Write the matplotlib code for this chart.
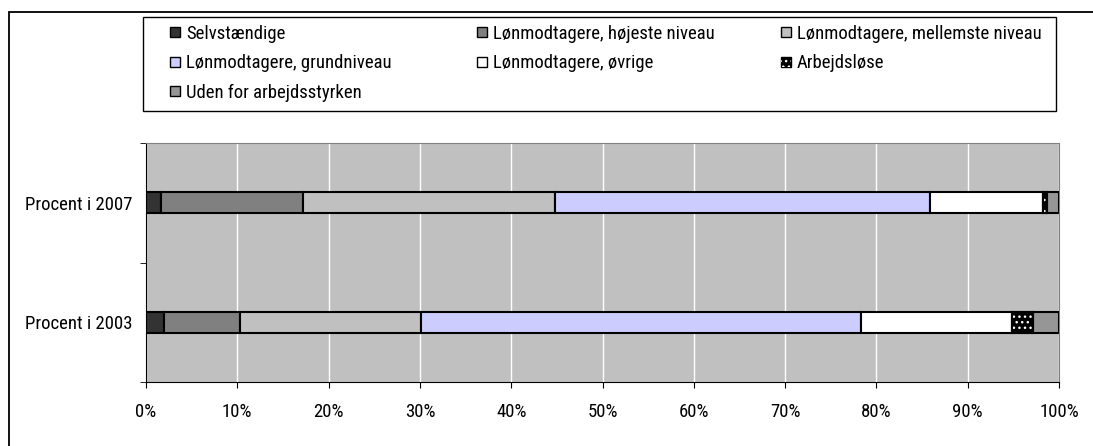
import matplotlib
matplotlib.use("Agg")
import matplotlib.pyplot as plt
from matplotlib.patches import Rectangle
import numpy as np
from matplotlib import font_manager

fams = {f.name for f in font_manager.fontManager.ttflist}
FONT = next((f for f in ["Roboto Condensed", "Archivo Narrow", "PT Sans Narrow", "Liberation Sans"] if f in fams),
            "DejaVu Sans")
plt.rcParams['font.family'] = [FONT, 'DejaVu Sans']
FS = 13.5

categories = ["Procent i 2003", "Procent i 2007"]
series_names = ["Selvstændige", "Lønmodtagere, højeste niveau", "Lønmodtagere, mellemste niveau",
                "Lønmodtagere, grundniveau", "Lønmodtagere, øvrige", "Arbejdsløse",
                "Uden for arbejdsstyrken"]
# shares in percent, [2003, 2007]
selvst = [2.0, 1.6]
hoejeste = [8.3, 15.6]
mellemste = [19.8, 27.6]
grund = [48.2, 41.1]
oevrige = [16.5, 12.3]
arbejdsloese = [2.3, 0.5]
uden = [2.9, 1.3]
values = [selvst, hoejeste, mellemste, grund, oevrige, arbejdsloese, uden]
colors = ["#333333", "#808080", "#c0c0c0", "#ccccff", "#ffffff", "#000000", "#969696"]
xticks = np.arange(0, 101, 10)

fig = plt.figure(figsize=(10.93, 4.46), dpi=100)
W, H = 1093, 446

# outer frame
fig.add_artist(Rectangle((9 / W, -0.1), 1.2, (446 - 12) / H + 0.1, transform=fig.transFigure,
                         fill=False, edgecolor="black", linewidth=1.3))

ax = fig.add_axes([146 / W, 1 - 382 / H, (1059 - 146) / W, (382 - 143) / H])
ax.set_facecolor("#c0c0c0")
ypos = np.arange(len(categories))
left = np.zeros(len(categories))
bh = 0.176
for name, vals, col in zip(series_names, values, colors):
    vals = np.array(vals)
    ax.barh(ypos, vals, left=left, height=bh, color=col, edgecolor="black", linewidth=1.5, zorder=3)
    if name == "Arbejdsløse":
        ax.barh(ypos, vals, left=left, height=bh, color="none", edgecolor="white", hatch="...",
                linewidth=0, zorder=4)
        ax.barh(ypos, vals, left=left, height=bh, color="none", edgecolor="black", linewidth=1.5, zorder=5)
    left += vals

ax.set_xlim(0, 100)
ax.set_ylim(-0.5, 1.5)
ax.set_xticks(xticks)
ax.set_xticklabels([f"{t}%" for t in xticks], fontsize=FS)
ax.xaxis.grid(True, color="white", linewidth=1)
ax.set_axisbelow(True)
ax.set_yticks(ypos)
ax.set_yticklabels(categories, fontsize=FS)
ax.set_yticks([-0.5, 0.5, 1.5], minor=True)
ax.tick_params(axis="y", which="major", length=0, pad=10)
ax.tick_params(axis="y", which="minor", length=4, direction="out")
ax.tick_params(axis="x", length=4, direction="out", pad=11)
for s in ["top", "right"]:
    ax.spines[s].set_color("#808080")
for s in ["left", "bottom"]:
    ax.spines[s].set_color("black")

# legend
fig.add_artist(Rectangle((143 / W, 1 - 111 / H), (1056 - 143) / W, (111 - 17) / H,
                         transform=fig.transFigure, fill=False, edgecolor="black", linewidth=1.0))
col_x = [170, 477, 781]
row_y = [32, 61.5, 91]
order = [(0, 0), (0, 1), (0, 2), (1, 0), (1, 1), (1, 2), (2, 0)]
s = 10
for i, (r, c) in enumerate(order):
    x0, y0 = col_x[c], row_y[r]
    fig.add_artist(Rectangle((x0 / W, 1 - (y0 + s / 2) / H), s / W, s / H, transform=fig.transFigure,
                             facecolor=colors[i], edgecolor="black", linewidth=1.0))
    if series_names[i] == "Arbejdsløse":
        fig.add_artist(Rectangle((x0 / W, 1 - (y0 + s / 2) / H), s / W, s / H, transform=fig.transFigure,
                                 facecolor="none", edgecolor="white", hatch="...", linewidth=0))
    fig.text((x0 + 16) / W, 1 - y0 / H, series_names[i], fontsize=FS, va="center_baseline", ha="left")

fig.savefig("out.png", dpi=100)
